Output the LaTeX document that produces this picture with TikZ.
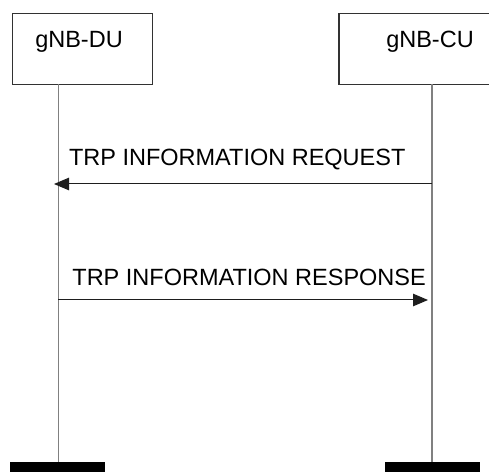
\documentclass[tikz,border=0pt]{standalone}
\usepackage{fontspec}
\setmainfont{Liberation Sans}
\usepackage{xcolor}
\usetikzlibrary{arrows.meta, positioning}
\definecolor{lifeGrey}{RGB}{128, 128, 128}
\definecolor{boxDark}{RGB}{50, 50, 50}
\definecolor{msgDark}{RGB}{30, 30, 30}
\tikzset{
  entity/.style={draw=boxDark, line width=1.2pt, minimum width=140pt, minimum height=71.6pt, inner sep=0pt, anchor=north west},
  entitylbl/.style={font=\fontsize{23.5}{28}\selectfont, inner sep=0pt, anchor=base},
  msglbl/.style={font=\fontsize{23.5}{28}\selectfont, inner sep=0pt, anchor=base west},
  lifeline/.style={draw=lifeGrey, line width=1.5pt},
  endbar/.style={fill=black, minimum width=95pt, minimum height=12pt, inner sep=0pt, anchor=north},
  msg/.style={draw=msgDark, line width=1pt, -{Triangle[length=15pt, width=12.5pt]}}
}

\begin{document}
\begin{tikzpicture}[x=1pt, y=1pt]
    \useasboundingbox (0,0) rectangle (489,471);
    \clip (0,0) rectangle (489,471);
    % Entities
    \node[entity] (du) at (12, 458.3) {};
    \node[entity, minimum width=170pt] (cu) at (338.3, 458.3) {};
    \node[entitylbl] (dulbl) at (79, 423) {gNB-DU};
    \node[entitylbl] (culbl) at (430, 423) {gNB-CU};
    % End bars
    \node[endbar] (duend) at (57.7, 9) {};
    \node[endbar] (cuend) at (432, 9) {};
    % Lifelines
    \coordinate (duTop) at (58.3, 386.7);
    \coordinate (cuTop) at (432, 386.7);
    \draw[lifeline] (duTop) -- (duTop |- duend.north);
    \draw[lifeline] (cuTop) -- (cuTop |- cuend.north);
    % Messages
    \coordinate (reqS) at (432, 287);
    \coordinate (reqE) at (54, 287);
    \coordinate (rspS) at (58.3, 171);
    \coordinate (rspE) at (428, 171);
    \draw[msg] (reqS) -- (reqE);
    \draw[msg] (rspS) -- (rspE);
    \node[msglbl] (reqlbl) at (68.8, 305) {TRP INFORMATION REQUEST};
    \node[msglbl] (rsplbl) at (72.2, 185) {TRP INFORMATION RESPONSE};
\end{tikzpicture}
\end{document}
